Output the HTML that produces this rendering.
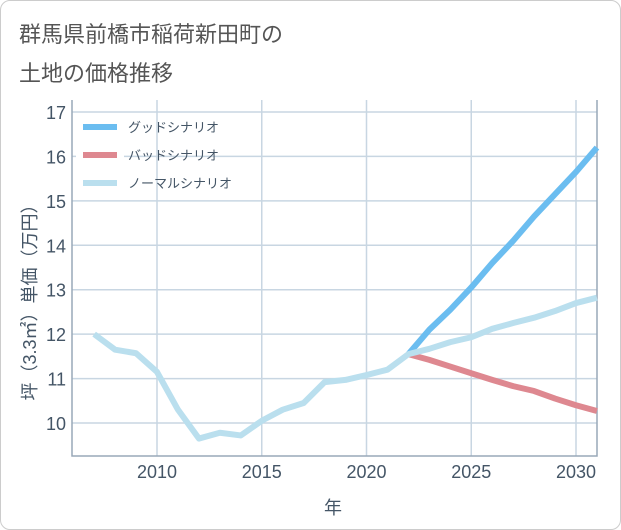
<!DOCTYPE html>
<html><head><meta charset="utf-8"><style>
body{margin:0;background:#fff;}
#card{position:absolute;left:0;top:0;width:619px;height:528px;border:1px solid #ccc;border-radius:10px;background:#fff;}
.t{position:absolute;left:18px;font:22px "Liberation Sans","Noto Sans CJK JP",sans-serif;color:#555;}
svg text{font-family:"Liberation Sans","Noto Sans CJK JP",sans-serif;}
</style></head><body>
<div id="card">
<div class="t" style="top:16px">群馬県前橋市稲荷新田町の</div>
<div class="t" style="top:55px">土地の価格推移</div>
</div>
<svg id="c" width="621" height="530" style="position:absolute;left:0;top:0"></svg>
<script>
const years=[2007,2008,2009,2010,2011,2012,2013,2014,2015,2016,2017,2018,2019,2020,2021,2022,2023,2024,2025,2026,2027,2028,2029,2030,2031];
const normalVals=[12.0,11.65,11.57,11.15,10.3,9.65,9.78,9.72,10.05,10.3,10.45,10.92,10.97,11.08,11.2,11.55,11.67,11.82,11.93,12.12,12.25,12.37,12.52,12.7,12.82];
const futureYears=[2022,2023,2024,2025,2026,2027,2028,2029,2030,2031];
const goodVals=[11.55,12.1,12.55,13.05,13.6,14.1,14.65,15.15,15.65,16.2];
const badVals=[11.55,11.42,11.27,11.12,10.97,10.83,10.72,10.55,10.4,10.27];
const yTicks=[10,11,12,13,14,15,16,17];
const xTicks=[2010,2015,2020,2025,2030];
const legendLabels=['グッドシナリオ','バッドシナリオ','ノーマルシナリオ'];
const NS='http://www.w3.org/2000/svg',svg=document.getElementById('c');
const L=72,R=597,T=100,B=456;
const xs=y=>157+(y-2010)*(576-157)/20;
const ys=v=>423-(v-10)*(423-112)/7;
function mk(t,a,p){const e=document.createElementNS(NS,t);for(const k in a)e.setAttribute(k,a[k]);(p||svg).appendChild(e);return e;}
for(const v of yTicks){const y=ys(v);
const g=mk('line',{x1:L,x2:R,y1:y,y2:y,stroke:'#c8d6e2','stroke-width':1.5});


const t=mk('text',{x:L-6,y:y+7,'text-anchor':'end','font-size':18,fill:'#445566'});t.textContent=v;

}
for(const v of xTicks){const x=xs(v);
const g=mk('line',{x1:x,x2:x,y1:T,y2:B,stroke:'#c8d6e2','stroke-width':1.5});


const t=mk('text',{x:x,y:B+22,'text-anchor':'middle','font-size':18,fill:'#445566'});t.textContent=v;

}
const ax=mk('path',{d:`M${L} ${T}V${B}H${R}V${T}`,fill:'none',stroke:'#99a8b8','stroke-width':1.5});


function line(xa,va,col,name){const p=mk('polyline',{points:xa.map((y,i)=>xs(y)+','+ys(va[i])).join(' '),fill:'none',stroke:col,'stroke-width':6,'stroke-linejoin':'round','stroke-linecap':'butt'});

}
line(futureYears,goodVals,'#6bbdf0','good-scenario-line');
line(futureYears,badVals,'#de8890','bad-scenario-line');
line(years,normalVals,'#badfee','normal-scenario-line');
const cols=['#6bbdf0','#de8890','#badfee'];
legendLabels.forEach((s,i)=>{const y=127+i*28;
const bg=mk('rect',{x:76,y:y-14,width:48,height:28,fill:'#fff'});


const l=mk('line',{x1:83,x2:117,y1:y,y2:y,stroke:cols[i],'stroke-width':6});


const t=mk('text',{x:128,y:y+5,'font-size':13,fill:'#445566'});t.textContent=s;

});
const yt=mk('text',{x:0,y:0,'font-size':18,fill:'#445566','text-anchor':'middle',transform:'translate(36,298) rotate(-90)'});yt.textContent='坪（3.3㎡）単価（万円）';


const xt=mk('text',{x:333,y:514,'font-size':18,fill:'#445566','text-anchor':'middle'});xt.textContent='年';


</script>
</body></html>
